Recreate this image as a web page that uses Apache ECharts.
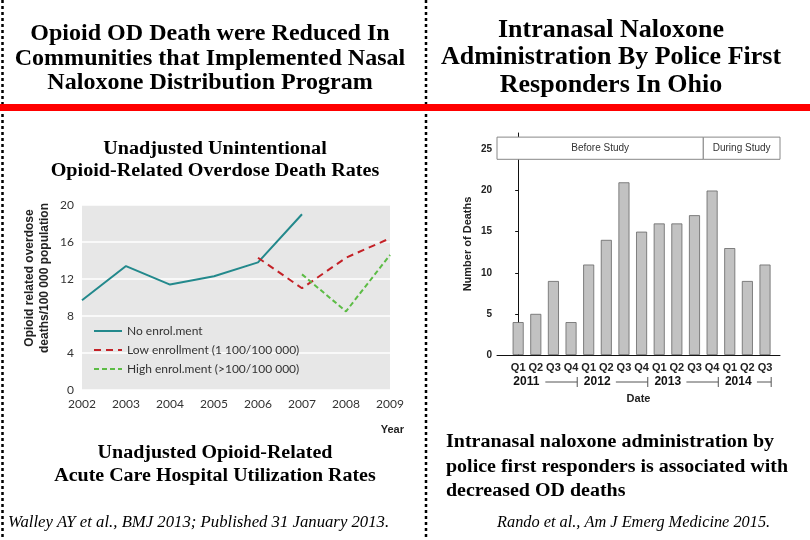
<!DOCTYPE html>
<html><head><meta charset="utf-8">
<script src="https://cdn.jsdelivr.net/npm/echarts@6/dist/echarts.min.js"></script>
<style>html,body{margin:0;padding:0;background:#fff}#c{width:810px;height:540px}</style>
</head><body><div id="c"></div>
<script>
// ---- Left chart data ----
const years = [2002, 2003, 2004, 2005, 2006, 2007, 2008, 2009];
const noEnrol = [9.7, 13.4, 11.4, 12.3, 13.8, 19.0, null, null];
const lowEnrol = [null, null, null, null, 14.3, 11.0, 14.3, 16.4];
const highEnrol = [null, null, null, null, null, 12.5, 8.5, 14.6];
const seriesNames = ['No enrol.ment', 'Low enrollment (1 100/100 000)', 'High enrol.ment (>100/100 000)'];

// ---- Right chart data ----
const quarters = ['Q1','Q2','Q3','Q4','Q1','Q2','Q3','Q4','Q1','Q2','Q3','Q4','Q1','Q2','Q3'];
const quarterYears = ['2011','2011','2011','2011','2012','2012','2012','2012','2013','2013','2013','2013','2014','2014','2014'];
const deaths = [4, 5, 9, 4, 11, 14, 21, 15, 16, 16, 17, 20, 13, 9, 11];
const deathTicks = [0, 5, 10, 15, 20, 25];
const phaseNames = ['Before Study', 'During Study'];
const phaseStartIdx = [0, 11];

const pair = (xs, ys) => xs.map((x, i) => [x, ys[i]]);
const qIdx = quarters.map((q, i) => i);
const RX_MIN = -1.2, RX_MAX = 14.85;

// year groups
const groups = [];
quarterYears.forEach((y, i) => {
  if (!groups.length || groups[groups.length - 1][2] !== y) groups.push([i, i, y]);
  else groups[groups.length - 1][1] = i;
});

// phase boxes
const phaseBoxes = phaseNames.map((n, k) => {
  const x0 = k === 0 ? RX_MIN : phaseStartIdx[k] - 0.5;
  const x1 = k === phaseNames.length - 1 ? RX_MAX : phaseStartIdx[k + 1] - 0.5;
  return [{ name: n, coord: [x0, 23.8] }, { coord: [x1, 26.5] }];
});

const serif = '"Liberation Serif","Times New Roman",serif';
const sans = '"Liberation Sans",Arial,sans-serif';
const soft = 'Lato,"Open Sans",sans-serif';

function txt(text, x, y, font, align, lineHeight, sx) {
  return { type: 'text', x: x, y: y, scaleX: sx || 1,
    style: { text: text, x: 0, y: 0, textAlign: align, textVerticalAlign: 'middle', lineHeight: lineHeight, font: font, fill: '#000' } };
}

const chart = echarts.init(document.getElementById('c'));
chart.setOption({
  backgroundColor: '#fff',
  animation: false,
  legend: {
    left: 88, top: 320, orient: 'vertical', itemWidth: 28, itemHeight: 12, itemGap: 7,
    itemStyle: { opacity: 0 },
    textStyle: { fontFamily: soft, fontSize: 12, color: '#333' },
    data: seriesNames
  },
  grid: [
    { left: 82, right: 420, top: 205, bottom: 150, show: true, backgroundColor: '#e7e7e7', borderWidth: 0 },
    { left: 497, right: 30, top: 133, bottom: 185 }
  ],
  xAxis: [
    { gridIndex: 0, type: 'value', min: 2002, max: 2009, interval: 1,
      axisLine: { show: false }, axisTick: { show: false }, splitLine: { show: false },
      axisLabel: { fontFamily: soft, fontSize: 12, color: '#333', margin: 8, formatter: v => String(v) } },
    { gridIndex: 1, type: 'value', min: RX_MIN, max: RX_MAX,
      axisLine: { show: true, lineStyle: { color: '#111', width: 1 } },
      axisTick: { show: false }, splitLine: { show: false },
      axisLabel: { customValues: qIdx, formatter: v => quarters[Math.round(v)] || '', fontFamily: sans, fontSize: 11, fontWeight: 'bold', color: '#222', margin: 7 },
      name: 'Date', nameLocation: 'middle', nameGap: 38,
      nameTextStyle: { fontFamily: sans, fontSize: 11, fontWeight: 'bold', color: '#222' } }
  ],
  yAxis: [
    { gridIndex: 0, type: 'value', min: 0, max: 20, interval: 4,
      axisLine: { show: false }, axisTick: { show: false },
      splitLine: { show: true, lineStyle: { color: '#ffffff', width: 1.5 } },
      axisLabel: { fontFamily: soft, fontSize: 12, color: '#333', margin: 8 } },
    { gridIndex: 1, type: 'value', min: 0, max: 27,
      axisLine: { show: true, lineStyle: { color: '#111', width: 1 } },
      axisTick: { show: true, length: 3, customValues: deathTicks, lineStyle: { color: '#111' } },
      splitLine: { show: false },
      axisLabel: { customValues: deathTicks, fontFamily: sans, fontSize: 10, fontWeight: 'bold', color: '#222', margin: 5 },
      name: 'Number of Deaths', nameLocation: 'middle', nameGap: 24,
      nameTextStyle: { fontFamily: sans, fontSize: 11, fontWeight: 'bold', color: '#222' } }
  ],
  series: [
    { name: seriesNames[0], type: 'line', xAxisIndex: 0, yAxisIndex: 0, data: pair(years, noEnrol),
      symbol: 'none', lineStyle: { color: '#23898c', width: 2 }, itemStyle: { color: '#23898c' } },
    { name: seriesNames[1], type: 'line', xAxisIndex: 0, yAxisIndex: 0, data: pair(years, lowEnrol),
      symbol: 'none', lineStyle: { color: '#c42127', width: 2, type: [7, 5] }, itemStyle: { color: '#c42127' } },
    { name: seriesNames[2], type: 'line', xAxisIndex: 0, yAxisIndex: 0, data: pair(years, highEnrol),
      symbol: 'none', lineStyle: { color: '#5cbc45', width: 2, type: [5, 3] }, itemStyle: { color: '#5cbc45' } },
    { type: 'bar', xAxisIndex: 1, yAxisIndex: 1, data: pair(qIdx, deaths), barWidth: 11,
      itemStyle: { color: '#c2c2c2', borderColor: '#666', borderWidth: 0.8 },
      markArea: {
        silent: true,
        itemStyle: { color: '#fff', borderColor: '#888', borderWidth: 1 },
        label: { show: true, position: 'inside', fontFamily: sans, fontSize: 10, color: '#333' },
        data: phaseBoxes
      } },
    { type: 'custom', xAxisIndex: 1, yAxisIndex: 1, clip: false, silent: true, data: groups,
      renderItem: (params, api) => {
        const g = groups[params.dataIndex];
        const y = api.coord([0, 0])[1] + 27;
        const xs = api.coord([g[0] - 0.5, 0])[0] + 4;
        const xt = api.coord([g[1] + 0.35, 0])[0];
        const tw = 28;
        return { type: 'group', children: [
          { type: 'text', style: { text: g[2], x: xs, y: y, textVerticalAlign: 'middle', textAlign: 'left',
              font: 'bold 12px ' + sans, fill: '#111' } },
          { type: 'line', shape: { x1: xs + tw + 4, y1: y, x2: xt, y2: y }, style: { stroke: '#555', lineWidth: 1 } },
          { type: 'line', shape: { x1: xt, y1: y - 5, x2: xt, y2: y + 5 }, style: { stroke: '#555', lineWidth: 1 } }
        ] };
      } }
  ],
  graphic: [
    { type: 'line', shape: { x1: 2.5, y1: 0, x2: 2.5, y2: 540 }, style: { stroke: '#000', lineWidth: 2.5, lineDash: [3, 3] } },
    { type: 'line', shape: { x1: 426, y1: 0, x2: 426, y2: 540 }, style: { stroke: '#000', lineWidth: 2.5, lineDash: [3, 3] } },
    { type: 'rect', shape: { x: 0, y: 104, width: 810, height: 7 }, style: { fill: '#ff0000' } },
    txt('Opioid OD Death were Reduced In\nCommunities that Implemented Nasal\nNaloxone Distribution Program', 210, 59, 'bold 23px ' + serif, 'center', 24.5, 1.045),
    txt('Intranasal Naloxone\nAdministration By Police First\nResponders In Ohio', 611, 58, 'bold 25px ' + serif, 'center', 27.5, 1.04),
    txt('Unadjusted Unintentional\nOpioid-Related Overdose Death Rates', 215, 160, 'bold 18px ' + serif, 'center', 22, 1.12),
    txt('Unadjusted Opioid-Related\nAcute Care Hospital Utilization Rates', 215, 465, 'bold 18px ' + serif, 'center', 23, 1.11),
    txt('Intranasal naloxone administration by\npolice first responders is associated with\ndecreased OD deaths', 446, 467, 'bold 18px ' + serif, 'left', 24.5, 1.11),
    txt('Walley AY et al., BMJ 2013; Published 31 January 2013.', 8, 523, 'italic 16px ' + serif, 'left', 18, 1.045),
    txt('Rando et al., Am J Emerg Medicine 2015.', 497, 523, 'italic 16px ' + serif, 'left', 18, 1.02),
    { type: 'text', rotation: Math.PI / 2, x: 37, y: 278, style: { text: 'Opioid related overdose\ndeaths/100 000 population',
        x: 0, y: 0, textAlign: 'center', textVerticalAlign: 'middle', lineHeight: 15, font: 'bold 12px ' + sans, fill: '#222' } },
    { type: 'text', style: { text: 'Year', x: 404, y: 430, textAlign: 'right', textVerticalAlign: 'middle', font: 'bold 11px ' + sans, fill: '#222' } }
  ]
});
</script></body></html>
